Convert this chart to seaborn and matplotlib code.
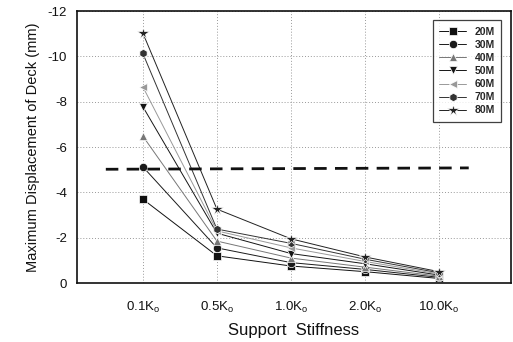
import numpy as np
import pandas as pd
import matplotlib
matplotlib.use("Agg")
import matplotlib.pyplot as plt
import seaborn as sns

# Support stiffness cases (multiples of K_o)
stiffness = ["0.1K$_\\mathregular{o}$", "0.5K$_\\mathregular{o}$", "1.0K$_\\mathregular{o}$",
             "2.0K$_\\mathregular{o}$", "10.0K$_\\mathregular{o}$"]
spans = ["20M", "30M", "40M", "50M", "60M", "70M", "80M"]

# Maximum deck displacement (mm) for each span length
disp_20 = [-3.70, -1.20, -0.75, -0.50, -0.20]
disp_30 = [-5.13, -1.55, -0.90, -0.60, -0.25]
disp_40 = [-6.48, -1.85, -1.10, -0.70, -0.30]
disp_50 = [-7.78, -2.20, -1.30, -0.85, -0.35]
disp_60 = [-8.66, -2.30, -1.55, -0.95, -0.40]
disp_70 = [-10.13, -2.38, -1.75, -1.05, -0.45]
disp_80 = [-11.03, -3.26, -1.95, -1.15, -0.50]

# Allowable displacement limit line
limit_x = [-0.5, 4.4]
limit_y = [-5.02, -5.08]

series = [disp_20, disp_30, disp_40, disp_50, disp_60, disp_70, disp_80]
rows = []
for name, vals in zip(spans, series):
    for i, v in enumerate(vals):
        rows.append({"pos": i, "disp": v, "span": name})
df = pd.DataFrame(rows)

sns.set_style("white")
plt.rcParams["font.family"] = ["Liberation Sans", "DejaVu Sans"]
plt.rcParams["mathtext.fontset"] = "custom"
plt.rcParams["mathtext.rm"] = "Liberation Sans"

fig = plt.figure(figsize=(5.13, 3.42), dpi=100)
ax = fig.add_axes([0.150, 0.1725, 0.846, 0.795])

palette = {"20M": "#111111", "30M": "#1a1a1a", "40M": "#777777", "50M": "#151515",
           "60M": "#999999", "70M": "#333333", "80M": "#222222"}
markers = {"20M": "s", "30M": "o", "40M": "^", "50M": "v",
           "60M": "<", "70M": "h", "80M": "*"}

sns.lineplot(data=df, x="pos", y="disp", hue="span", style="span",
             palette=palette, markers=markers, dashes=False,
             linewidth=0.7, markersize=6, markeredgewidth=0.5, ax=ax)

# enlarge the star marker so it reads at the same size as the others
for ln in ax.get_lines():
    if ln.get_marker() == "*":
        ln.set_markersize(8.5)

ax.plot(limit_x, limit_y, color="#111111", linestyle=(0, (4.5, 3)), linewidth=2.0)

ax.set_xlim(-0.89, 4.97)
ax.set_ylim(0, -12)
ax.set_xticks(range(len(stiffness)))
ax.set_xticklabels(stiffness)
ax.set_xticks(np.arange(-0.5, 5.0, 1.0), minor=True)
ax.set_yticks(np.arange(0, -13, -2))
ax.set_yticklabels([str(int(v)) for v in np.arange(0, -13, -2)])
ax.set_yticks(np.arange(-1, -12, -2), minor=True)

ax.grid(True, which="major", color="#999999", linestyle=(0, (1, 2)), linewidth=0.7)
for s in ax.spines.values():
    s.set_color("#111111")
    s.set_linewidth(1.2)
ax.tick_params(axis="both", which="major", direction="out", length=4, width=1,
               labelsize=9.5, colors="#111111", pad=3)
ax.tick_params(axis="both", which="minor", direction="out", length=2.5, width=0.8,
               colors="#111111")
ax.tick_params(axis="x", pad=8)

ax.set_xlabel("Support  Stiffness", fontsize=12, labelpad=6, color="#111111")
ax.set_ylabel("Maximum Displacement of Deck (mm)", fontsize=10.5, labelpad=6,
              color="#111111")

leg = ax.legend(loc="upper right", bbox_to_anchor=(0.99, 0.985),
                frameon=True, fancybox=False, edgecolor="#111111",
                handlelength=2.6, borderpad=0.6, labelspacing=0.3,
                prop={"weight": "bold", "size": 7.5})
leg.get_frame().set_linewidth(0.9)
for h in leg.legend_handles:
    if h.get_marker() == "*":
        h.set_markersize(8.5)

fig.savefig("out.png", dpi=100)
